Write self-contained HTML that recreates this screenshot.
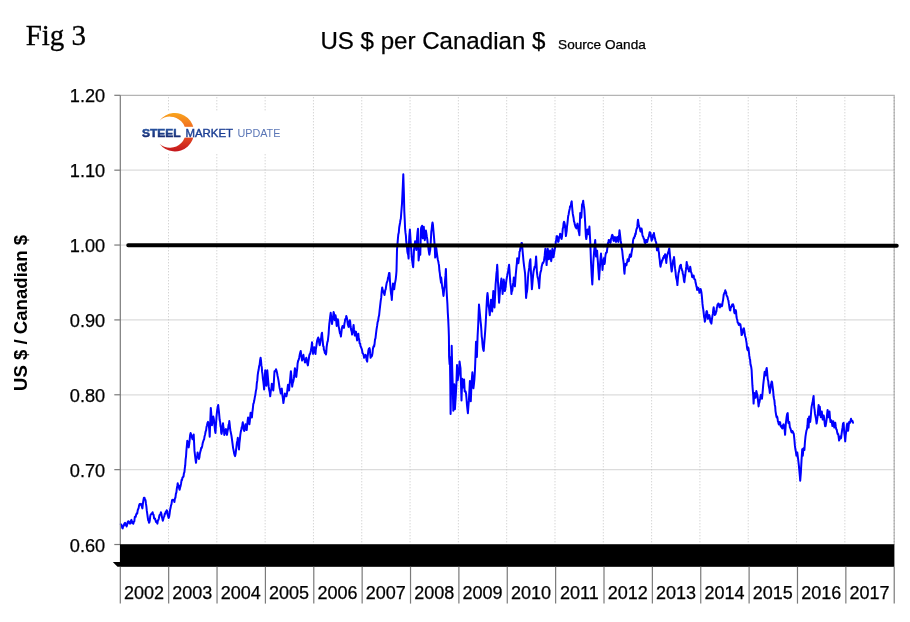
<!DOCTYPE html>
<html lang="en"><head><meta charset="utf-8"><title>Fig 3 - US $ per Canadian $</title>
<style>html,body{margin:0;padding:0;background:#fff}body{width:910px;height:622px;overflow:hidden}svg{display:block}text{font-family:"Liberation Sans",Arial,sans-serif;fill:#000}.w{stroke:#000;stroke-width:.25px}</style></head><body>
<svg width="910" height="622" viewBox="0 0 910 622">
<defs><linearGradient id="cg" x1="0" y1="0" x2="0" y2="1"><stop offset="0" stop-color="#f9a51c"/><stop offset="0.5" stop-color="#ee5a24"/><stop offset="1" stop-color="#c4161c"/></linearGradient>
<linearGradient id="tg" x1="0" y1="0" x2="0" y2="1"><stop offset="0" stop-color="#2a5caa"/><stop offset="1" stop-color="#14246b"/></linearGradient></defs>
<rect width="910" height="622" fill="#fff"/>
<text x="25.7" y="45.3" style="font-family:'Liberation Serif','Times New Roman',serif;font-size:29px;stroke:#000;stroke-width:.3px">Fig 3</text>
<text x="320.4" y="49.4" font-size="24.1" class="w">US $ per Canadian $</text>
<text x="558.1" y="49.4" font-size="13.6" class="w">Source Oanda</text>
<line x1="120.3" x2="894.2" y1="170.17" y2="170.17" stroke="#dcdcdc" stroke-width="1.2"/>
<line x1="120.3" x2="894.2" y1="245.04" y2="245.04" stroke="#dcdcdc" stroke-width="1.2"/>
<line x1="120.3" x2="894.2" y1="319.91" y2="319.91" stroke="#dcdcdc" stroke-width="1.2"/>
<line x1="120.3" x2="894.2" y1="394.78" y2="394.78" stroke="#dcdcdc" stroke-width="1.2"/>
<line x1="120.3" x2="894.2" y1="469.65" y2="469.65" stroke="#dcdcdc" stroke-width="1.2"/>
<line x1="168.51" x2="168.51" y1="97.30" y2="544.52" stroke="#c4c4c4" stroke-width="1" stroke-dasharray="1 2"/>
<line x1="216.82" x2="216.82" y1="97.30" y2="544.52" stroke="#c4c4c4" stroke-width="1" stroke-dasharray="1 2"/>
<line x1="265.13" x2="265.13" y1="97.30" y2="544.52" stroke="#c4c4c4" stroke-width="1" stroke-dasharray="1 2"/>
<line x1="313.44" x2="313.44" y1="97.30" y2="544.52" stroke="#c4c4c4" stroke-width="1" stroke-dasharray="1 2"/>
<line x1="361.75" x2="361.75" y1="97.30" y2="544.52" stroke="#c4c4c4" stroke-width="1" stroke-dasharray="1 2"/>
<line x1="410.06" x2="410.06" y1="97.30" y2="544.52" stroke="#c4c4c4" stroke-width="1" stroke-dasharray="1 2"/>
<line x1="458.37" x2="458.37" y1="97.30" y2="544.52" stroke="#c4c4c4" stroke-width="1" stroke-dasharray="1 2"/>
<line x1="506.68" x2="506.68" y1="97.30" y2="544.52" stroke="#c4c4c4" stroke-width="1" stroke-dasharray="1 2"/>
<line x1="554.99" x2="554.99" y1="97.30" y2="544.52" stroke="#c4c4c4" stroke-width="1" stroke-dasharray="1 2"/>
<line x1="603.30" x2="603.30" y1="97.30" y2="544.52" stroke="#c4c4c4" stroke-width="1" stroke-dasharray="1 2"/>
<line x1="651.61" x2="651.61" y1="97.30" y2="544.52" stroke="#c4c4c4" stroke-width="1" stroke-dasharray="1 2"/>
<line x1="699.92" x2="699.92" y1="97.30" y2="544.52" stroke="#c4c4c4" stroke-width="1" stroke-dasharray="1 2"/>
<line x1="748.23" x2="748.23" y1="97.30" y2="544.52" stroke="#c4c4c4" stroke-width="1" stroke-dasharray="1 2"/>
<line x1="796.54" x2="796.54" y1="97.30" y2="544.52" stroke="#c4c4c4" stroke-width="1" stroke-dasharray="1 2"/>
<line x1="844.85" x2="844.85" y1="97.30" y2="544.52" stroke="#c4c4c4" stroke-width="1" stroke-dasharray="1 2"/>
<line x1="120.3" x2="894.7" y1="95.3" y2="95.3" stroke="#b4b4b4" stroke-width="1.2"/>
<line x1="894.2" x2="894.2" y1="95.3" y2="544.52" stroke="#b4b4b4" stroke-width="1.2"/>
<line x1="894.2" x2="894.2" y1="97.3" y2="544.52" stroke="#a4a4a4" stroke-width="1.2" stroke-dasharray="1 2"/>
<g id="logo"><rect x="134" y="111.5" width="160" height="41.5" fill="#fff"/>
<path d="M159.5 120.7 A19.2 19.2 0 1 1 159.5 143.7 A15.58 15.58 0 1 0 159.5 120.7 Z" fill="url(#cg)"/>
<rect x="139" y="126.8" width="60" height="10.8" fill="#fff"/>
<text x="141.9" y="136.6" font-size="10.8" font-weight="bold" style="fill:url(#tg);stroke:url(#tg);stroke-width:0.5" textLength="38.8" lengthAdjust="spacingAndGlyphs">STEEL</text>
<text x="185.4" y="136.6" font-size="10.8" style="fill:#1c3f94;stroke:#1c3f94;stroke-width:0.4" textLength="47.6" lengthAdjust="spacingAndGlyphs">MARKET</text>
<text x="237.4" y="136.6" font-size="10.8" style="fill:#5a76b6" textLength="43" lengthAdjust="spacingAndGlyphs">UPDATE</text></g>
<path d="M120.8 524.2 L121.3 524.7 L121.8 525.3 L122.2 527.8 L122.7 528.4 L123.2 525.9 L123.7 525.9 L124.2 524.1 L124.6 523.2 L125.1 522.8 L125.6 524.9 L126.1 524.4 L126.6 526.5 L127.1 525.0 L127.5 522.7 L128.0 521.4 L128.5 521.3 L129.0 521.7 L129.5 523.4 L130.0 522.0 L130.4 523.6 L130.9 521.0 L131.4 519.9 L131.9 521.3 L132.4 523.1 L132.8 523.0 L133.3 523.8 L133.8 521.7 L134.3 521.5 L134.8 517.0 L135.3 516.5 L135.7 516.7 L136.2 514.4 L136.7 513.3 L137.2 513.6 L137.7 510.4 L138.2 508.9 L138.6 508.2 L139.1 505.3 L139.6 504.0 L140.1 504.8 L140.6 504.6 L141.0 503.9 L141.5 505.0 L141.9 507.0 L142.4 508.4 L142.9 503.6 L143.4 500.1 L143.9 497.7 L144.5 497.7 L145.0 499.8 L145.5 500.1 L145.9 503.4 L146.4 506.6 L146.8 510.7 L147.3 514.1 L147.7 517.0 L148.2 520.3 L148.6 520.5 L149.0 522.7 L149.3 522.6 L149.8 520.5 L150.2 516.5 L150.7 514.5 L151.2 514.2 L151.7 513.4 L152.1 513.8 L152.6 512.2 L153.1 514.5 L153.6 514.9 L154.1 518.5 L154.5 518.8 L155.0 518.5 L155.5 520.2 L156.0 521.9 L156.5 521.0 L157.0 522.8 L157.4 523.6 L157.9 520.3 L158.4 520.0 L158.9 518.3 L159.4 515.5 L159.9 514.6 L160.4 514.4 L160.9 512.2 L161.4 513.8 L161.9 517.0 L162.4 518.8 L162.8 520.7 L163.3 519.1 L163.8 517.0 L164.3 516.3 L164.8 513.6 L165.3 514.0 L165.7 511.9 L166.2 511.6 L166.7 510.3 L167.2 511.0 L167.7 514.7 L168.2 516.5 L168.6 518.0 L169.1 516.8 L169.6 513.8 L170.1 509.7 L170.6 507.8 L171.0 505.4 L171.5 504.2 L172.0 500.4 L172.5 499.7 L173.0 500.1 L173.5 499.9 L173.9 500.3 L174.4 502.0 L174.9 498.3 L175.4 497.9 L175.9 493.7 L176.4 492.3 L176.8 488.6 L177.3 486.0 L177.7 483.3 L178.2 486.0 L178.7 485.4 L179.1 488.1 L179.6 489.8 L180.1 487.5 L180.6 485.9 L181.1 483.2 L181.6 479.8 L182.0 480.0 L182.5 477.5 L183.0 477.1 L183.5 476.5 L183.9 473.4 L184.4 472.1 L184.8 468.2 L185.2 465.7 L185.6 459.5 L186.0 456.7 L186.4 450.5 L186.9 445.4 L187.3 440.8 L187.8 442.3 L188.2 445.2 L188.7 447.4 L189.2 444.1 L189.7 439.6 L190.1 435.3 L190.6 433.1 L191.1 434.4 L191.6 435.8 L192.1 437.9 L192.6 439.3 L192.9 439.0 L193.3 436.6 L193.7 434.5 L194.1 442.7 L194.5 450.9 L195.0 455.2 L195.5 459.3 L196.0 462.8 L196.5 458.1 L197.1 457.0 L197.6 452.4 L198.0 455.4 L198.5 457.8 L198.9 459.0 L199.4 457.4 L199.8 453.9 L200.3 451.8 L200.8 450.1 L201.2 447.8 L201.7 447.9 L202.2 446.0 L202.7 443.1 L203.2 441.5 L203.6 440.2 L204.1 439.3 L204.6 436.2 L205.1 434.5 L205.6 431.5 L206.1 430.6 L206.5 427.0 L207.0 425.3 L207.5 423.0 L208.0 421.9 L208.4 423.7 L208.9 426.2 L209.3 430.2 L209.7 436.8 L210.0 428.2 L210.4 417.8 L210.8 407.9 L211.2 412.7 L211.6 418.8 L212.0 425.2 L212.4 421.9 L212.9 419.1 L213.3 416.6 L213.8 418.9 L214.3 423.3 L214.7 427.5 L215.1 431.1 L215.5 433.0 L215.8 427.1 L216.2 421.3 L216.6 415.6 L217.1 410.9 L217.6 407.4 L218.2 405.0 L218.5 408.1 L218.9 411.4 L219.3 415.6 L219.7 420.1 L220.1 421.7 L220.5 426.2 L220.9 427.4 L221.2 432.6 L221.6 433.9 L222.1 430.5 L222.5 425.9 L223.0 423.3 L223.4 427.3 L223.9 429.7 L224.3 434.9 L224.8 433.0 L225.4 432.4 L225.9 429.1 L226.3 432.0 L226.6 433.5 L227.0 434.9 L227.4 432.0 L227.8 430.0 L228.2 428.1 L228.6 424.8 L229.0 424.1 L229.3 421.0 L229.7 424.4 L230.1 428.5 L230.5 431.0 L231.0 433.4 L231.5 436.0 L232.0 439.7 L232.6 444.1 L233.1 448.1 L233.6 450.3 L234.1 453.2 L234.6 455.0 L235.1 456.1 L235.6 453.8 L236.0 450.4 L236.5 446.5 L236.9 442.8 L237.4 440.7 L237.8 437.8 L238.2 441.2 L238.6 444.2 L239.0 449.4 L239.4 443.2 L239.9 439.1 L240.3 434.9 L240.8 431.6 L241.2 430.3 L241.7 427.2 L242.1 426.8 L242.5 423.8 L242.8 422.3 L243.3 426.5 L243.7 429.5 L244.2 431.0 L244.6 430.1 L245.1 426.1 L245.5 424.3 L245.9 425.4 L246.3 427.4 L246.7 430.1 L247.2 425.0 L247.6 420.9 L248.1 417.5 L248.5 420.1 L249.0 423.1 L249.4 424.3 L249.8 421.4 L250.2 416.5 L250.6 412.7 L251.0 414.7 L251.5 416.8 L251.9 417.5 L252.4 411.9 L252.8 409.0 L253.3 404.0 L253.8 402.9 L254.3 400.3 L254.8 397.3 L255.3 395.1 L255.8 391.4 L256.4 388.6 L256.8 383.2 L257.3 380.4 L257.7 375.1 L258.2 371.7 L258.6 370.1 L259.1 366.4 L259.6 364.8 L260.1 360.3 L260.6 357.7 L261.0 360.7 L261.4 365.4 L261.8 367.4 L262.1 371.9 L262.5 374.2 L262.9 378.9 L263.3 381.4 L263.7 385.0 L264.1 389.5 L264.5 384.3 L264.8 377.5 L265.2 370.3 L265.6 374.4 L266.0 381.5 L266.4 385.7 L266.9 379.3 L267.3 370.3 L267.8 376.2 L268.2 380.8 L268.7 386.7 L269.2 390.0 L269.7 392.1 L270.2 396.3 L270.8 390.8 L271.3 389.3 L271.8 383.8 L272.3 386.4 L272.8 388.3 L273.3 390.5 L273.7 385.3 L274.1 377.5 L274.5 371.2 L275.0 371.6 L275.5 370.8 L276.0 369.3 L276.5 370.7 L277.1 373.1 L277.6 376.0 L278.1 378.4 L278.6 381.1 L279.1 384.7 L279.6 387.9 L280.1 389.8 L280.7 393.4 L281.0 391.6 L281.4 389.2 L281.8 388.6 L282.3 394.6 L282.8 397.8 L283.4 403.1 L283.9 399.7 L284.4 396.9 L284.9 393.4 L285.4 395.5 L285.9 395.1 L286.4 396.3 L287.0 393.6 L287.5 388.6 L288.0 384.7 L288.4 386.7 L288.8 388.7 L289.1 390.5 L289.6 384.3 L290.0 380.7 L290.5 375.2 L290.9 371.2 L291.3 375.0 L291.8 382.3 L292.2 386.7 L292.7 383.2 L293.3 381.4 L293.8 378.9 L294.2 376.0 L294.5 372.0 L294.9 368.3 L295.4 370.7 L295.8 374.2 L296.3 377.0 L296.7 372.7 L297.2 368.8 L297.6 363.5 L298.2 360.5 L298.7 359.8 L299.2 357.7 L299.7 354.8 L300.2 352.6 L300.7 351.0 L301.2 354.9 L301.6 357.4 L302.1 360.6 L302.5 358.9 L303.0 357.5 L303.4 354.8 L303.9 358.6 L304.5 359.8 L305.0 362.5 L305.4 361.2 L305.9 359.3 L306.3 357.7 L306.8 360.3 L307.3 363.4 L307.9 365.4 L308.3 362.1 L308.8 359.1 L309.2 355.8 L309.7 354.1 L310.2 353.8 L310.8 351.0 L311.2 348.6 L311.6 346.3 L312.0 342.3 L312.4 347.4 L312.7 349.4 L313.1 353.9 L313.5 351.8 L313.9 350.7 L314.3 347.2 L314.7 350.4 L315.1 350.7 L315.5 353.9 L315.8 349.6 L316.2 347.3 L316.6 344.3 L317.1 340.8 L317.6 339.0 L318.2 337.5 L318.7 338.9 L319.2 343.1 L319.7 345.2 L320.2 343.1 L320.7 339.5 L321.1 338.3 L321.6 334.0 L322.0 332.7 L322.4 337.8 L322.8 342.2 L323.2 346.2 L323.6 346.5 L323.9 349.9 L324.3 350.1 L324.8 352.9 L325.4 352.2 L325.9 354.5 L326.3 352.4 L326.6 347.4 L327.0 344.3 L327.4 342.0 L327.8 341.1 L328.2 337.5 L328.6 334.0 L329.0 327.6 L329.3 324.0 L329.8 320.1 L330.2 316.6 L330.7 312.8 L331.1 316.1 L331.6 319.4 L332.0 324.0 L332.6 319.5 L333.1 316.7 L333.6 312.1 L334.0 313.4 L334.4 317.6 L334.7 320.2 L335.1 317.6 L335.5 315.3 L335.9 317.5 L336.3 321.9 L336.7 325.9 L337.1 324.0 L337.4 321.5 L337.8 319.2 L338.2 320.9 L338.6 326.3 L339.0 327.9 L339.5 330.9 L340.0 333.5 L340.4 333.3 L340.9 336.6 L341.4 332.4 L341.9 328.2 L342.5 325.9 L343.0 327.4 L343.5 326.6 L344.0 327.9 L344.4 323.9 L344.8 321.9 L345.2 319.2 L345.5 319.3 L345.9 317.9 L346.3 315.9 L346.7 317.3 L347.1 319.1 L347.5 322.1 L347.9 324.9 L348.2 325.5 L348.6 326.9 L349.0 325.2 L349.4 321.3 L349.8 320.2 L350.2 321.8 L350.6 326.5 L350.9 328.8 L351.3 330.6 L351.7 331.5 L352.1 334.6 L352.6 332.6 L353.1 328.6 L353.6 325.0 L354.0 329.4 L354.4 330.9 L354.8 335.6 L355.2 335.3 L355.6 331.8 L356.0 331.7 L356.4 335.6 L356.7 337.4 L357.1 340.4 L357.5 337.7 L357.9 336.1 L358.3 333.7 L358.7 338.1 L359.2 339.4 L359.6 343.3 L360.1 343.6 L360.5 346.0 L361.0 347.2 L361.5 348.4 L362.0 349.9 L362.5 353.0 L363.0 353.6 L363.6 354.9 L364.1 357.8 L364.6 356.0 L365.1 355.3 L365.6 354.9 L366.1 356.6 L366.6 360.1 L367.2 361.6 L367.5 357.5 L367.9 354.6 L368.3 351.0 L368.7 349.2 L369.1 348.7 L369.5 348.1 L369.9 350.0 L370.2 353.9 L370.6 357.8 L371.1 355.5 L371.7 356.5 L372.2 354.9 L372.6 352.5 L372.9 348.9 L373.3 347.2 L373.7 346.1 L374.1 346.5 L374.5 344.3 L375.0 339.6 L375.5 338.1 L376.0 333.7 L376.5 329.6 L377.1 325.9 L377.6 322.1 L378.1 320.8 L378.6 317.3 L379.1 315.3 L379.6 310.5 L380.1 306.2 L380.7 300.9 L381.2 297.7 L381.7 291.4 L382.2 287.4 L382.6 289.6 L383.0 290.5 L383.4 291.2 L383.7 292.9 L384.1 293.5 L384.5 295.1 L384.9 292.7 L385.3 290.0 L385.7 289.3 L386.2 285.7 L386.7 282.9 L387.2 281.6 L387.6 280.6 L388.0 277.7 L388.4 276.8 L388.8 274.5 L389.1 273.0 L389.5 272.9 L389.9 279.6 L390.3 285.5 L390.7 290.3 L391.1 294.0 L391.5 296.1 L391.8 299.9 L392.2 293.7 L392.6 288.4 L393.0 283.5 L393.4 285.3 L393.8 286.4 L394.2 289.3 L394.5 286.6 L394.9 283.5 L395.3 281.6 L395.7 279.3 L396.1 275.8 L396.5 271.0 L397.0 249.9 L397.4 244.9 L397.9 238.9 L398.3 234.5 L398.8 232.5 L399.2 227.5 L399.7 224.8 L400.1 222.5 L400.5 219.6 L400.8 219.0 L401.2 213.5 L401.6 208.7 L402.0 203.6 L402.4 194.9 L402.8 186.2 L403.3 174.3 L403.9 193.9 L404.3 211.3 L404.7 219.1 L405.1 228.7 L405.5 232.9 L405.9 235.6 L406.2 241.2 L406.6 244.1 L407.0 247.1 L407.4 251.8 L407.8 253.8 L408.2 255.0 L408.6 258.6 L408.9 246.1 L409.3 236.4 L409.9 229.6 L410.4 237.3 L410.9 246.0 L411.3 249.8 L411.6 255.3 L412.0 259.5 L412.4 262.2 L412.8 265.4 L413.2 267.3 L413.6 259.0 L414.0 249.9 L414.3 247.6 L414.7 245.2 L415.1 241.2 L415.5 243.8 L415.9 246.5 L416.3 249.9 L416.7 245.5 L417.0 238.3 L417.5 232.5 L418.0 228.7 L418.6 260.5 L419.1 255.8 L419.5 249.9 L419.9 252.7 L420.3 254.7 L420.9 229.6 L421.3 227.1 L421.7 228.0 L422.1 225.8 L422.4 233.1 L422.8 238.3 L423.3 232.9 L423.8 226.7 L424.3 234.1 L424.8 240.2 L425.1 237.9 L425.5 232.8 L425.9 230.6 L426.4 233.6 L426.8 236.4 L427.3 239.3 L427.7 243.6 L428.2 246.0 L428.6 249.8 L429.0 252.7 L429.4 254.7 L429.8 252.1 L430.2 250.0 L430.5 246.0 L430.9 239.3 L431.3 231.6 L431.7 229.1 L432.1 224.8 L432.5 222.5 L432.9 224.5 L433.2 228.2 L433.6 232.5 L434.0 237.0 L434.4 242.2 L434.8 248.8 L435.2 257.6 L435.6 255.3 L435.9 251.3 L436.3 248.0 L436.7 251.5 L437.1 254.7 L437.5 257.6 L437.9 260.0 L438.3 261.4 L438.6 263.4 L439.0 265.2 L439.4 270.7 L439.8 273.0 L440.2 276.9 L440.6 279.5 L441.0 282.7 L441.2 277.6 L441.6 281.3 L442.0 285.1 L442.4 288.2 L442.8 289.6 L443.2 294.0 L443.5 295.9 L443.9 292.0 L444.3 288.3 L444.7 286.3 L445.1 279.9 L445.5 275.4 L445.9 268.9 L446.2 278.7 L446.6 290.2 L447.0 297.6 L447.4 303.7 L447.8 312.7 L448.2 319.1 L448.6 327.8 L448.9 336.5 L449.1 357.0 L449.6 364.2 L449.9 357.0 L450.3 384.3 L450.6 414.1 L451.1 384.3 L451.7 345.7 L452.2 368.2 L452.7 384.3 L453.3 410.8 L453.8 397.2 L454.3 384.3 L454.9 409.2 L455.3 402.9 L455.7 397.2 L456.4 384.3 L457.0 365.0 L457.7 380.3 L458.1 377.4 L458.6 374.7 L459.1 368.6 L459.6 361.5 L460.1 365.6 L460.5 368.2 L461.0 384.3 L461.5 400.4 L462.2 378.7 L462.6 383.4 L463.1 387.5 L463.6 383.9 L464.1 379.5 L464.7 391.5 L465.2 390.9 L465.6 391.6 L466.0 393.2 L466.5 398.5 L467.0 405.2 L467.5 409.9 L467.9 413.2 L468.4 406.3 L468.9 400.4 L469.4 390.9 L469.9 381.1 L470.4 389.8 L470.8 401.2 L471.5 384.3 L472.0 377.0 L472.4 372.3 L472.9 379.6 L473.4 388.3 L473.9 384.4 L474.4 379.5 L474.9 371.2 L475.3 361.8 L476.0 341.7 L476.5 349.8 L476.9 357.0 L477.6 336.1 L478.2 324.8 L478.6 314.1 L479.0 304.6 L479.4 308.9 L479.8 312.9 L480.2 317.2 L480.6 321.6 L481.0 325.1 L481.4 330.7 L481.7 336.3 L482.1 338.8 L482.5 344.2 L482.9 347.8 L483.3 349.9 L483.7 350.9 L484.1 344.8 L484.4 341.2 L484.8 336.5 L485.2 330.9 L485.6 324.9 L486.0 317.2 L486.4 309.3 L486.8 301.7 L487.1 296.7 L487.5 293.1 L487.9 296.7 L488.3 303.3 L488.7 306.6 L489.1 308.6 L489.5 312.6 L489.8 315.2 L490.2 309.1 L490.6 305.0 L491.0 299.8 L491.4 304.9 L491.8 306.5 L492.2 311.4 L492.5 305.5 L492.9 297.9 L493.3 291.1 L493.7 297.7 L494.1 302.6 L494.5 307.5 L494.9 299.1 L495.2 293.2 L495.6 284.4 L496.0 279.8 L496.4 274.0 L496.8 270.9 L497.2 264.7 L497.6 271.2 L497.9 280.5 L498.3 287.9 L498.7 295.2 L499.1 302.7 L499.5 297.3 L499.9 292.0 L500.3 288.2 L500.6 284.6 L501.0 281.3 L501.4 278.6 L501.8 284.7 L502.2 287.5 L502.6 294.0 L503.0 289.9 L503.3 285.3 L503.7 279.5 L504.1 282.3 L504.5 288.5 L504.9 291.1 L505.3 289.1 L505.7 287.1 L506.0 283.4 L506.4 280.2 L506.8 277.9 L507.2 275.7 L507.6 273.1 L508.0 272.6 L508.4 268.9 L508.7 267.1 L509.1 264.7 L509.5 270.2 L509.9 276.3 L510.3 282.4 L510.7 285.7 L511.1 288.9 L511.4 294.0 L511.8 291.0 L512.2 291.1 L512.6 288.2 L513.0 284.1 L513.4 282.4 L513.8 277.6 L514.1 279.8 L514.5 282.8 L514.9 286.3 L515.3 281.2 L515.7 275.1 L516.1 270.9 L516.5 266.3 L516.8 263.8 L517.2 258.3 L517.6 261.0 L518.0 262.4 L518.4 263.2 L518.8 259.7 L519.2 256.6 L519.5 251.6 L519.9 251.2 L520.3 248.5 L520.7 246.8 L521.1 246.1 L521.5 242.9 L521.9 242.9 L522.3 247.7 L522.6 251.1 L523.0 255.4 L523.4 260.0 L523.8 263.6 L524.2 267.0 L524.6 269.9 L525.0 272.8 L525.3 277.6 L525.7 288.9 L526.1 297.9 L526.5 293.9 L526.9 292.0 L527.3 289.2 L527.7 283.3 L528.0 277.7 L528.4 272.8 L528.8 270.3 L529.2 267.7 L529.6 263.2 L530.0 260.6 L530.4 259.3 L530.7 267.4 L531.1 274.7 L531.5 281.4 L531.9 289.2 L532.3 284.9 L532.7 279.9 L533.1 275.7 L533.4 272.5 L533.8 270.2 L534.2 268.9 L534.6 266.8 L535.0 267.5 L535.4 265.1 L535.8 260.7 L536.1 256.4 L536.5 263.3 L536.9 271.8 L537.3 275.2 L537.7 277.7 L538.1 278.6 L538.5 281.7 L538.8 284.0 L539.2 288.2 L539.6 281.1 L540.0 275.7 L540.4 272.6 L540.8 271.4 L541.2 269.9 L541.6 266.8 L542.0 265.3 L542.3 264.1 L542.7 262.8 L543.1 263.0 L543.5 262.2 L543.9 261.0 L544.3 258.4 L544.7 255.4 L545.0 251.8 L545.4 248.7 L545.8 253.9 L546.2 259.7 L546.6 265.1 L547.0 259.3 L547.4 253.7 L547.7 248.7 L548.1 251.0 L548.5 255.1 L548.9 259.3 L549.3 257.7 L549.7 252.4 L550.1 250.6 L550.5 254.1 L550.8 258.0 L551.2 261.2 L551.6 258.0 L552.0 252.1 L552.4 248.7 L552.8 250.9 L553.2 253.7 L553.5 257.3 L553.9 254.5 L554.3 252.1 L554.7 249.6 L555.1 248.0 L555.5 244.8 L555.9 240.9 L556.2 240.4 L556.6 236.4 L557.0 236.1 L557.4 236.7 L557.8 240.6 L558.2 241.9 L558.6 241.4 L558.9 238.6 L559.3 237.1 L559.7 236.4 L560.1 233.8 L560.5 234.2 L560.9 235.5 L561.3 238.6 L561.6 239.0 L562.0 236.4 L562.4 232.9 L562.8 228.4 L563.2 227.5 L563.6 223.2 L564.0 221.7 L564.3 222.2 L564.7 223.9 L565.1 226.5 L565.5 231.4 L565.9 236.1 L566.3 233.4 L566.7 230.9 L567.0 226.5 L567.4 223.6 L567.8 219.8 L568.2 215.9 L568.6 214.7 L569.0 211.9 L569.4 210.1 L569.7 208.9 L570.1 206.2 L570.5 206.2 L570.9 205.4 L571.3 202.3 L571.7 201.4 L572.1 206.8 L572.4 210.2 L572.8 213.9 L573.2 216.0 L573.6 218.0 L574.0 221.7 L574.4 222.2 L574.8 224.6 L575.1 225.5 L575.5 227.0 L575.9 226.4 L576.3 228.4 L576.7 225.6 L577.1 225.3 L577.5 223.6 L577.8 226.4 L578.2 228.4 L578.6 231.3 L579.0 232.5 L579.4 235.2 L579.8 224.4 L580.2 213.0 L580.5 213.2 L580.9 215.6 L581.3 217.8 L581.7 210.9 L582.1 204.3 L582.5 204.4 L582.9 202.4 L583.2 200.8 L583.6 205.0 L584.0 206.9 L584.4 210.1 L584.8 216.4 L585.2 223.5 L585.6 231.3 L585.9 236.5 L586.3 239.0 L586.7 236.4 L587.1 232.0 L587.5 229.4 L587.9 229.6 L588.3 232.6 L588.6 234.2 L589.0 230.8 L589.4 226.5 L589.8 233.5 L590.2 240.9 L590.6 250.9 L591.0 262.2 L591.4 269.4 L591.7 275.7 L592.3 284.4 L592.8 274.5 L593.3 262.2 L593.7 256.9 L594.1 251.9 L594.4 248.7 L594.8 243.9 L595.2 240.0 L595.6 248.0 L596.0 256.4 L596.4 255.0 L596.8 251.7 L597.1 250.6 L597.5 257.2 L597.9 262.2 L598.3 268.6 L598.7 273.8 L599.1 279.5 L599.5 272.9 L599.8 269.3 L600.2 262.2 L600.6 257.3 L601.0 253.5 L601.4 258.7 L601.8 262.2 L602.2 265.3 L602.5 269.9 L602.9 265.2 L603.3 262.9 L603.7 258.3 L604.1 260.6 L604.5 264.1 L604.9 262.1 L605.2 257.7 L605.6 254.5 L606.0 252.9 L606.4 252.4 L606.8 252.5 L607.2 249.1 L607.6 246.6 L607.9 242.9 L608.3 243.2 L608.7 240.0 L609.1 240.0 L609.5 240.7 L609.9 241.1 L610.3 242.9 L610.6 242.6 L611.0 238.7 L611.4 238.1 L611.8 235.8 L612.2 234.9 L612.6 235.2 L613.0 236.8 L613.3 240.1 L613.7 240.9 L614.1 240.7 L614.5 239.0 L614.9 237.1 L615.3 240.1 L615.7 241.5 L616.0 241.9 L616.4 239.8 L616.8 237.8 L617.2 237.1 L617.6 239.9 L618.0 241.0 L618.4 241.9 L618.7 236.7 L619.1 234.7 L619.5 230.3 L619.9 233.5 L620.3 237.1 L620.7 240.9 L621.1 243.0 L621.4 245.2 L621.8 248.7 L622.2 250.5 L622.6 254.5 L623.0 258.3 L623.4 260.8 L623.8 264.1 L624.1 270.2 L624.5 273.7 L624.9 267.9 L625.3 264.1 L625.7 265.7 L626.1 263.9 L626.5 265.1 L626.8 262.7 L627.2 262.1 L627.6 259.3 L628.0 260.8 L628.4 260.4 L628.8 261.2 L629.2 257.7 L629.5 256.6 L629.9 254.5 L630.3 254.7 L630.7 256.9 L631.1 256.4 L631.5 253.0 L631.9 250.9 L632.3 248.7 L632.6 246.6 L633.0 240.9 L633.4 239.0 L633.8 237.8 L634.2 238.0 L634.6 236.1 L635.0 236.2 L635.3 233.6 L635.7 234.2 L636.1 231.0 L636.5 229.1 L636.9 228.4 L637.3 226.7 L637.7 221.9 L638.0 219.7 L638.4 222.7 L638.8 225.3 L639.2 226.5 L639.6 227.6 L640.0 229.1 L640.4 231.3 L640.7 231.6 L641.1 229.7 L641.5 228.4 L641.9 230.3 L642.3 234.2 L642.7 236.1 L643.1 236.6 L643.4 237.4 L643.8 239.0 L644.2 238.9 L644.6 242.3 L645.0 242.9 L645.4 243.1 L645.8 241.3 L646.1 240.0 L646.5 241.9 L646.9 239.9 L647.3 241.9 L647.7 239.6 L648.1 238.6 L648.5 237.1 L648.8 236.8 L649.2 235.1 L649.6 232.3 L650.0 232.3 L650.4 233.0 L650.8 234.8 L651.2 237.9 L651.6 240.7 L652.0 239.4 L652.4 239.3 L652.7 236.8 L653.1 234.7 L653.5 235.1 L653.9 233.0 L654.3 235.6 L654.7 237.7 L655.1 238.8 L655.5 240.8 L655.8 241.6 L656.2 242.6 L656.6 246.0 L657.0 250.3 L657.4 248.5 L657.8 247.4 L658.2 246.5 L658.5 250.8 L658.9 252.4 L659.3 257.1 L659.7 259.5 L660.1 264.2 L660.5 266.7 L660.9 264.7 L661.2 262.9 L661.6 262.9 L662.0 260.3 L662.4 260.5 L662.8 259.0 L663.2 257.6 L663.6 258.4 L663.9 256.1 L664.3 256.6 L664.7 256.2 L665.1 254.2 L665.5 256.4 L665.9 258.8 L666.3 262.9 L666.6 258.9 L667.0 257.1 L667.4 254.2 L667.8 253.8 L668.2 252.1 L668.6 251.3 L669.0 249.1 L669.3 248.4 L669.7 252.4 L670.1 257.1 L670.5 260.9 L670.9 265.0 L671.3 268.7 L671.7 271.6 L672.0 269.6 L672.4 266.2 L672.8 262.9 L673.2 259.9 L673.6 260.0 L674.0 257.1 L674.4 260.4 L674.7 265.0 L675.1 268.7 L675.5 271.5 L675.9 275.8 L676.3 278.3 L676.7 279.7 L677.1 282.1 L677.4 285.1 L677.8 280.2 L678.2 275.7 L678.6 272.5 L679.0 271.7 L679.4 268.9 L679.8 266.7 L680.1 265.6 L680.5 265.2 L680.9 264.8 L681.3 268.1 L681.7 268.7 L682.1 270.6 L682.5 271.1 L682.8 274.0 L683.2 274.5 L683.6 277.5 L684.0 281.0 L684.4 282.2 L684.8 277.8 L685.2 275.7 L685.5 272.5 L685.9 269.9 L686.3 266.4 L686.7 261.9 L687.1 265.3 L687.5 265.1 L687.9 268.7 L688.2 269.1 L688.6 269.5 L689.0 271.6 L689.4 269.1 L689.8 269.7 L690.2 266.7 L690.6 268.9 L690.9 271.8 L691.3 272.5 L691.7 273.8 L692.1 276.8 L692.5 277.3 L692.9 276.6 L693.3 275.4 L693.6 275.4 L694.0 277.5 L694.4 279.2 L694.8 279.3 L695.2 279.8 L695.6 282.8 L696.0 284.1 L696.4 286.4 L696.7 287.2 L697.1 289.9 L697.5 288.9 L697.9 287.6 L698.3 288.0 L698.7 288.7 L699.1 290.5 L699.4 292.8 L699.8 291.8 L700.2 290.6 L700.6 288.9 L701.0 290.3 L701.4 292.1 L701.8 295.7 L702.1 299.1 L702.5 303.9 L702.9 307.3 L703.3 309.6 L703.7 313.2 L704.1 316.9 L704.5 318.5 L704.8 321.7 L705.2 320.3 L705.6 317.4 L706.0 315.0 L706.4 311.8 L706.8 311.1 L707.2 312.6 L707.5 316.0 L707.9 318.8 L708.3 317.7 L708.7 316.6 L709.1 315.0 L709.5 315.8 L709.9 317.9 L710.2 320.8 L710.6 322.3 L711.0 322.4 L711.4 323.6 L711.8 320.1 L712.2 317.3 L712.6 315.0 L712.9 313.7 L713.3 309.3 L713.7 307.3 L714.1 310.0 L714.5 312.0 L714.9 315.0 L715.3 313.8 L715.6 314.1 L716.0 312.1 L716.4 311.5 L716.8 307.8 L717.2 306.3 L717.6 304.5 L718.0 305.0 L718.3 303.4 L718.7 303.8 L719.1 304.6 L719.5 307.3 L719.9 307.4 L720.3 305.1 L720.7 304.4 L721.0 305.9 L721.4 305.4 L721.8 306.3 L722.2 305.4 L722.6 302.3 L723.0 300.5 L723.4 297.3 L723.7 294.6 L724.1 293.7 L724.5 292.7 L724.9 291.8 L725.3 290.3 L725.7 292.9 L726.1 292.1 L726.4 294.7 L726.8 296.0 L727.2 296.3 L727.6 297.6 L728.0 299.5 L728.4 300.5 L728.8 303.4 L729.1 305.0 L729.5 308.0 L729.9 310.1 L730.3 310.4 L730.7 307.1 L731.1 307.3 L731.5 306.3 L731.8 306.2 L732.2 304.4 L732.6 306.0 L733.0 304.2 L733.4 305.3 L733.8 306.8 L734.2 311.7 L734.5 313.0 L734.9 313.4 L735.3 311.1 L735.7 310.1 L736.1 311.8 L736.5 317.1 L736.9 318.8 L737.3 319.8 L737.6 322.5 L738.0 322.7 L738.4 323.7 L738.8 324.9 L739.2 324.6 L739.6 323.6 L740.0 325.3 L740.4 324.5 L740.8 327.2 L741.2 331.3 L741.6 335.1 L742.0 334.8 L742.4 333.4 L742.7 331.2 L743.1 329.4 L743.5 328.5 L743.9 328.3 L744.3 330.6 L744.7 333.5 L745.1 336.0 L745.5 337.3 L745.8 338.2 L746.2 340.9 L746.6 343.1 L747.0 347.3 L747.4 349.5 L747.8 350.3 L748.2 347.6 L748.5 348.6 L748.9 352.0 L749.3 355.7 L749.7 358.2 L750.1 359.5 L750.5 364.3 L750.9 365.9 L751.2 366.8 L751.6 369.8 L752.0 377.8 L752.4 385.2 L752.8 390.2 L753.2 394.9 L753.6 403.6 L753.9 398.6 L754.3 393.0 L754.7 394.0 L755.1 395.9 L755.5 397.8 L755.9 394.6 L756.3 391.0 L756.6 392.1 L757.0 394.0 L757.4 394.9 L757.8 398.6 L758.2 402.4 L758.6 406.5 L759.0 403.2 L759.3 402.9 L759.7 400.7 L760.1 398.7 L760.5 396.1 L760.9 394.9 L761.3 396.9 L761.7 398.2 L762.0 398.7 L762.4 394.3 L762.8 390.1 L763.2 384.8 L763.6 381.4 L764.0 378.1 L764.4 373.9 L764.7 371.7 L765.1 372.6 L765.5 375.6 L765.9 372.8 L766.3 369.3 L766.7 367.9 L767.1 371.6 L767.4 375.6 L767.8 379.5 L768.2 380.7 L768.6 385.0 L769.0 387.2 L769.4 388.9 L769.8 393.0 L770.1 391.0 L770.5 388.6 L770.9 385.2 L771.3 383.3 L771.7 381.4 L772.1 382.4 L772.5 385.9 L772.8 388.1 L773.2 391.3 L773.6 396.5 L774.0 398.7 L774.4 400.3 L774.8 404.9 L775.2 406.5 L775.5 411.1 L775.9 413.5 L776.3 416.1 L776.7 417.6 L777.1 416.5 L777.5 418.0 L777.9 421.3 L778.2 421.9 L778.6 423.8 L779.0 424.5 L779.4 423.7 L779.8 421.9 L780.2 422.6 L780.6 425.9 L780.9 426.7 L781.6 426.0 L782.1 428.4 L782.5 428.4 L783.0 425.2 L783.5 424.4 L784.0 426.0 L784.5 428.4 L785.1 434.8 L785.8 423.6 L786.2 420.7 L786.7 416.4 L787.2 413.8 L787.7 413.1 L788.3 422.8 L788.8 423.5 L789.3 422.0 L789.9 427.6 L790.4 428.2 L790.9 430.0 L791.4 432.1 L791.9 432.4 L792.3 431.0 L792.8 431.6 L793.3 432.8 L793.8 434.0 L794.4 439.7 L794.9 445.7 L795.4 449.3 L795.9 451.7 L796.4 455.7 L796.8 453.5 L797.3 452.5 L797.8 456.6 L798.3 460.6 L798.8 464.9 L799.3 470.2 L799.9 476.6 L800.2 480.7 L800.9 471.8 L801.5 460.6 L802.2 449.3 L802.8 455.7 L803.4 448.5 L803.9 448.0 L804.4 450.1 L805.0 441.3 L805.5 436.4 L806.0 433.2 L806.5 430.3 L807.0 429.2 L807.5 425.2 L807.9 418.8 L808.6 427.6 L809.2 416.4 L809.7 419.7 L810.2 422.0 L810.7 417.5 L811.2 410.7 L811.6 406.6 L812.1 404.3 L812.6 402.3 L813.1 398.7 L813.6 395.9 L814.2 407.5 L814.6 409.6 L815.0 413.9 L815.5 416.4 L816.0 418.8 L816.6 423.6 L817.1 420.3 L817.6 416.4 L818.1 410.3 L818.6 405.1 L819.2 414.7 L819.8 406.7 L820.3 413.0 L820.8 417.2 L821.3 414.5 L821.8 411.5 L822.3 415.8 L822.7 419.6 L823.2 418.6 L823.7 415.5 L824.2 418.5 L824.7 423.6 L825.1 426.2 L825.6 426.0 L826.1 423.1 L826.6 419.6 L827.1 414.4 L827.6 409.9 L828.0 414.4 L828.5 417.2 L829.0 413.7 L829.5 411.5 L830.0 418.1 L830.5 422.0 L830.9 421.4 L831.4 420.4 L831.9 422.8 L832.4 426.0 L832.9 424.3 L833.3 421.2 L833.8 424.2 L834.3 427.6 L834.8 424.3 L835.3 422.8 L835.8 426.7 L836.2 429.2 L836.7 429.6 L837.2 432.4 L837.7 434.1 L838.2 434.0 L838.6 436.6 L839.1 440.5 L839.6 438.8 L840.1 436.4 L840.6 438.6 L841.1 438.1 L841.5 434.7 L842.0 430.8 L842.5 427.7 L843.0 423.6 L843.6 422.8 L844.3 433.2 L844.8 436.7 L845.2 441.3 L845.7 435.1 L846.2 431.6 L846.7 426.3 L847.2 423.6 L847.7 426.2 L848.1 430.8 L848.6 426.7 L849.1 422.0 L849.6 422.2 L850.1 422.8 L850.5 420.8 L851.0 418.8 L851.5 421.1 L852.0 421.2 L852.5 420.9 L853.0 422.8" fill="none" stroke="#0000ff" stroke-width="2" stroke-linejoin="round" stroke-linecap="round"/>
<line x1="128.2" x2="896.8" y1="245.2" y2="245.8" stroke="#000" stroke-width="3.9" stroke-linecap="round"/>
<line x1="120.3" x2="120.3" y1="95.3" y2="544.52" stroke="#7a7a7a" stroke-width="1.2"/>
<line x1="114.3" x2="120.3" y1="95.30" y2="95.30" stroke="#7a7a7a" stroke-width="1.2"/>
<text x="105.2" y="102.30" font-size="18.2" text-anchor="end" class="w">1.20</text>
<line x1="114.3" x2="120.3" y1="170.17" y2="170.17" stroke="#7a7a7a" stroke-width="1.2"/>
<text x="105.2" y="177.17" font-size="18.2" text-anchor="end" class="w">1.10</text>
<line x1="114.3" x2="120.3" y1="245.04" y2="245.04" stroke="#7a7a7a" stroke-width="1.2"/>
<text x="105.2" y="252.04" font-size="18.2" text-anchor="end" class="w">1.00</text>
<line x1="114.3" x2="120.3" y1="319.91" y2="319.91" stroke="#7a7a7a" stroke-width="1.2"/>
<text x="105.2" y="326.91" font-size="18.2" text-anchor="end" class="w">0.90</text>
<line x1="114.3" x2="120.3" y1="394.78" y2="394.78" stroke="#7a7a7a" stroke-width="1.2"/>
<text x="105.2" y="401.78" font-size="18.2" text-anchor="end" class="w">0.80</text>
<line x1="114.3" x2="120.3" y1="469.65" y2="469.65" stroke="#7a7a7a" stroke-width="1.2"/>
<text x="105.2" y="476.65" font-size="18.2" text-anchor="end" class="w">0.70</text>
<line x1="114.3" x2="120.3" y1="544.52" y2="544.52" stroke="#7a7a7a" stroke-width="1.2"/>
<text x="105.2" y="551.52" font-size="18.2" text-anchor="end" class="w">0.60</text>
<rect x="119.89999999999999" y="544.22" width="774.50" height="22.6" fill="#000"/>
<path d="M112.8 562 L120.3 562 L120.3 566.8 L117.5 566.8 Z" fill="#000"/>
<line x1="120.30" x2="120.30" y1="566.8" y2="603.6" stroke="#7a7a7a" stroke-width="1.2"/>
<line x1="168.67" x2="168.67" y1="566.8" y2="603.6" stroke="#7a7a7a" stroke-width="1.2"/>
<line x1="217.04" x2="217.04" y1="566.8" y2="603.6" stroke="#7a7a7a" stroke-width="1.2"/>
<line x1="265.41" x2="265.41" y1="566.8" y2="603.6" stroke="#7a7a7a" stroke-width="1.2"/>
<line x1="313.78" x2="313.78" y1="566.8" y2="603.6" stroke="#7a7a7a" stroke-width="1.2"/>
<line x1="362.15" x2="362.15" y1="566.8" y2="603.6" stroke="#7a7a7a" stroke-width="1.2"/>
<line x1="410.52" x2="410.52" y1="566.8" y2="603.6" stroke="#7a7a7a" stroke-width="1.2"/>
<line x1="458.89" x2="458.89" y1="566.8" y2="603.6" stroke="#7a7a7a" stroke-width="1.2"/>
<line x1="507.26" x2="507.26" y1="566.8" y2="603.6" stroke="#7a7a7a" stroke-width="1.2"/>
<line x1="555.63" x2="555.63" y1="566.8" y2="603.6" stroke="#7a7a7a" stroke-width="1.2"/>
<line x1="604.00" x2="604.00" y1="566.8" y2="603.6" stroke="#7a7a7a" stroke-width="1.2"/>
<line x1="652.37" x2="652.37" y1="566.8" y2="603.6" stroke="#7a7a7a" stroke-width="1.2"/>
<line x1="700.74" x2="700.74" y1="566.8" y2="603.6" stroke="#7a7a7a" stroke-width="1.2"/>
<line x1="749.11" x2="749.11" y1="566.8" y2="603.6" stroke="#7a7a7a" stroke-width="1.2"/>
<line x1="797.48" x2="797.48" y1="566.8" y2="603.6" stroke="#7a7a7a" stroke-width="1.2"/>
<line x1="845.85" x2="845.85" y1="566.8" y2="603.6" stroke="#7a7a7a" stroke-width="1.2"/>
<line x1="894.22" x2="894.22" y1="566.8" y2="603.6" stroke="#7a7a7a" stroke-width="1.2"/>
<text x="143.98" y="598.9" font-size="18" text-anchor="middle" class="w">2002</text>
<text x="192.35" y="598.9" font-size="18" text-anchor="middle" class="w">2003</text>
<text x="240.72" y="598.9" font-size="18" text-anchor="middle" class="w">2004</text>
<text x="289.09" y="598.9" font-size="18" text-anchor="middle" class="w">2005</text>
<text x="337.46" y="598.9" font-size="18" text-anchor="middle" class="w">2006</text>
<text x="385.83" y="598.9" font-size="18" text-anchor="middle" class="w">2007</text>
<text x="434.20" y="598.9" font-size="18" text-anchor="middle" class="w">2008</text>
<text x="482.57" y="598.9" font-size="18" text-anchor="middle" class="w">2009</text>
<text x="530.94" y="598.9" font-size="18" text-anchor="middle" class="w">2010</text>
<text x="579.31" y="598.9" font-size="18" text-anchor="middle" class="w">2011</text>
<text x="627.68" y="598.9" font-size="18" text-anchor="middle" class="w">2012</text>
<text x="676.05" y="598.9" font-size="18" text-anchor="middle" class="w">2013</text>
<text x="724.42" y="598.9" font-size="18" text-anchor="middle" class="w">2014</text>
<text x="772.79" y="598.9" font-size="18" text-anchor="middle" class="w">2015</text>
<text x="821.16" y="598.9" font-size="18" text-anchor="middle" class="w">2016</text>
<text x="869.53" y="598.9" font-size="18" text-anchor="middle" class="w">2017</text>
<text transform="translate(27 391) rotate(-90)" font-size="18.6" font-weight="bold">US $ / Canadian $</text>
</svg></body></html>
